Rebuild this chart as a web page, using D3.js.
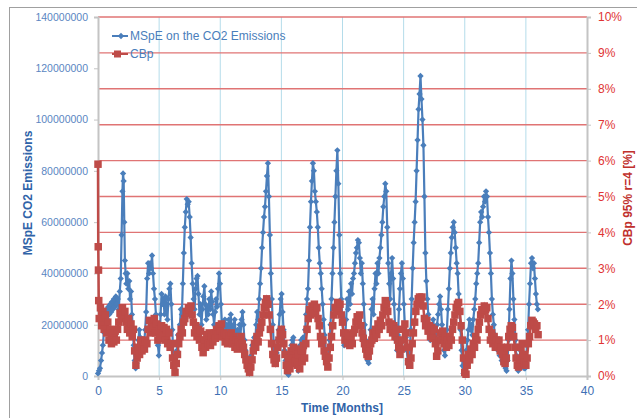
<!DOCTYPE html>
<html>
<head>
<meta charset="utf-8">
<script src="https://cdn.jsdelivr.net/npm/d3@7"></script>
<style>
  body { margin: 0; background: #fff; }
  svg { font-family: "Liberation Sans", Arial, sans-serif; display: block; }
</style>
</head>
<body>
<svg id="chart" width="637" height="418"></svg>
<script>
// MSpE on the CO2 Emissions, [month, value in millions]
var mspe = [
  [0.00,1],[0.08,2],[0.16,3],[0.25,6],[0.33,9],[0.40,12],[0.48,17],[0.56,24],[0.62,20],[0.70,26],
  [0.78,22],[0.85,27],[0.92,24],[1.00,28],[1.08,25],[1.15,29],[1.22,26],[1.30,30],[1.38,27],[1.46,31],
  [1.54,28],[1.62,30],[1.70,26],[1.78,33],[1.86,38],[1.93,55],[2.00,72],[2.05,79],[2.10,76],[2.15,60],
  [2.20,45],[2.26,40],[2.32,36],[2.40,40],[2.48,34],[2.56,37],[2.62,30],[2.70,33],[2.78,24],[2.85,18],
  [2.92,12],[3.00,6],[3.08,3],[3.15,5],[3.22,9],[3.30,14],[3.38,18],[3.46,15],[3.55,12],[3.62,14],
  [3.70,10],[3.78,13],[3.86,18],[3.94,25],[4.02,38],[4.10,44],[4.18,40],[4.26,44],[4.34,42],[4.42,47],
  [4.50,40],[4.58,34],[4.66,30],[4.74,24],[4.82,18],[4.90,12],[4.98,8],[5.05,14],[5.12,24],[5.20,32],
  [5.28,28],[5.36,30],[5.44,24],[5.52,31],[5.60,27],[5.68,22],[5.76,30],[5.84,34],[5.92,36],[6.00,28],
  [6.08,18],[6.16,8],[6.24,3],[6.30,1],[6.38,5],[6.46,10],[6.54,16],[6.62,14],[6.70,20],[6.78,26],
  [6.86,24],[6.94,36],[7.02,48],[7.10,58],[7.18,64],[7.26,69],[7.34,67],[7.42,68],[7.50,62],[7.58,54],
  [7.66,44],[7.74,36],[7.82,30],[7.90,26],[7.98,34],[8.06,38],[8.14,39],[8.22,32],[8.30,24],[8.38,28],
  [8.46,20],[8.54,26],[8.62,31],[8.70,35],[8.78,28],[8.86,22],[8.94,27],[9.02,24],[9.10,30],[9.18,26],
  [9.26,33],[9.34,29],[9.42,24],[9.50,20],[9.58,25],[9.66,30],[9.74,27],[9.82,34],[9.90,40],[9.98,36],
  [10.06,28],[10.14,20],[10.22,15],[10.30,18],[10.38,22],[10.46,17],[10.54,20],[10.62,16],[10.70,22],[10.78,19],
  [10.86,24],[10.94,18],[11.02,14],[11.10,20],[11.18,22],[11.26,17],[11.34,12],[11.42,18],[11.50,15],[11.58,20],
  [11.66,16],[11.74,22],[11.82,25],[11.90,20],[11.98,14],[12.06,10],[12.14,6],[12.22,3],[12.30,2],[12.38,1],
  [12.46,4],[12.54,8],[12.62,12],[12.70,10],[12.78,15],[12.86,13],[12.94,20],[13.02,25],[13.10,22],[13.18,30],
  [13.26,36],[13.34,42],[13.42,50],[13.50,56],[13.58,62],[13.66,66],[13.74,72],[13.82,78],[13.90,83],[13.98,70],
  [14.06,55],[14.14,40],[14.22,30],[14.30,20],[14.38,12],[14.46,6],[14.54,5],[14.62,9],[14.70,14],[14.78,18],
  [14.86,24],[14.94,30],[15.02,32],[15.10,25],[15.18,18],[15.26,10],[15.34,6],[15.42,3],[15.50,1],[15.58,0.5],
  [15.66,4],[15.74,8],[15.82,12],[15.90,14],[15.98,15],[16.06,10],[16.14,6],[16.22,9],[16.30,5],[16.38,2],
  [16.46,8],[16.54,12],[16.62,14],[16.70,11],[16.78,15],[16.86,12],[16.94,18],[17.02,24],[17.10,30],[17.18,34],
  [17.26,45],[17.34,58],[17.42,68],[17.50,76],[17.58,83],[17.66,80],[17.74,72],[17.82,68],[17.90,64],[17.98,58],
  [18.06,50],[18.14,44],[18.22,40],[18.30,34],[18.38,28],[18.46,22],[18.54,16],[18.62,10],[18.70,6],[18.78,4],
  [18.86,8],[18.94,14],[19.02,20],[19.10,30],[19.18,40],[19.26,50],[19.34,60],[19.42,70],[19.50,80],[19.58,88],
  [19.66,75],[19.74,55],[19.82,40],[19.90,30],[19.98,22],[20.06,16],[20.14,12],[20.22,15],[20.30,22],[20.38,30],
  [20.46,26],[20.54,33],[20.62,28],[20.70,36],[20.78,32],[20.86,38],[20.94,40],[21.02,44],[21.10,48],[21.18,50],
  [21.26,53],[21.34,52],[21.42,46],[21.50,40],[21.58,44],[21.66,36],[21.74,28],[21.82,20],[21.90,14],[21.98,8],
  [22.06,6],[22.14,5],[22.22,10],[22.30,18],[22.38,26],[22.46,30],[22.54,24],[22.62,34],[22.70,40],[22.78,36],
  [22.86,44],[22.94,40],[23.02,46],[23.10,50],[23.18,55],[23.26,60],[23.34,66],[23.42,70],[23.50,75],[23.58,72],
  [23.66,58],[23.74,44],[23.82,36],[23.90,30],[23.98,40],[24.06,46],[24.14,38],[24.22,28],[24.30,20],[24.38,14],
  [24.46,10],[24.54,16],[24.62,26],[24.70,34],[24.78,40],[24.86,44],[24.94,38],[25.02,28],[25.10,20],[25.18,15],
  [25.26,10],[25.34,6],[25.42,4],[25.50,8],[25.58,18],[25.66,30],[25.74,42],[25.82,52],[25.90,60],[25.98,68],
  [26.06,80],[26.14,92],[26.22,104],[26.30,110],[26.38,117],[26.46,108],[26.54,100],[26.62,90],[26.70,70],[26.78,48],
  [26.86,37],[26.94,30],[27.02,24],[27.10,18],[27.18,14],[27.26,20],[27.34,16],[27.42,22],[27.50,18],[27.58,12],
  [27.66,16],[27.74,20],[27.82,24],[27.90,28],[27.98,31],[28.06,26],[28.14,20],[28.22,14],[28.30,10],[28.38,8],
  [28.46,12],[28.54,18],[28.62,26],[28.70,34],[28.78,42],[28.86,48],[28.94,54],[29.02,58],[29.10,60],[29.18,56],
  [29.26,50],[29.34,44],[29.42,40],[29.50,32],[29.58,25],[29.66,18],[29.74,10],[29.82,4],[29.90,1],[29.98,0.5],
  [30.06,4],[30.14,10],[30.22,14],[30.30,18],[30.38,22],[30.46,18],[30.54,20],[30.62,16],[30.70,22],[30.78,26],
  [30.86,30],[30.94,36],[31.02,40],[31.10,44],[31.18,52],[31.26,60],[31.34,64],[31.42,62],[31.50,66],[31.58,70],
  [31.66,68],[31.74,72],[31.82,70],[31.90,62],[31.98,56],[32.06,48],[32.14,40],[32.22,30],[32.30,24],[32.38,20],
  [32.46,16],[32.54,12],[32.62,14],[32.70,10],[32.78,12],[32.86,8],[32.94,10],[33.02,6],[33.10,8],[33.18,5],
  [33.26,4],[33.34,3],[33.42,2],[33.50,6],[33.58,14],[33.66,26],[33.74,38],[33.82,45],[33.90,40],[33.98,30],
  [34.06,22],[34.14,14],[34.22,8],[34.30,4],[34.38,2],[34.46,6],[34.54,10],[34.62,8],[34.70,6],[34.78,4],
  [34.86,3],[34.94,3],[35.02,6],[35.10,12],[35.18,18],[35.26,28],[35.34,36],[35.42,44],[35.50,46],[35.58,42],
  [35.66,44],[35.74,38],[35.82,32],[35.90,28],[35.98,26]
];

// CBp 95% r=4, [month, percent]
var cbp = [
  [0.00,5.9],[0.02,3.6],[0.04,2.95],[0.06,2.1],
  [0.1,1.6],[0.2,1.9],[0.3,1.4],[0.4,1.8],[0.5,1.3],[0.6,1.7],[0.7,1.2],[0.8,1.5],[0.9,1.0],[1.0,1.3],
  [1.1,0.9],[1.2,1.2],[1.3,0.95],[1.4,1.25],[1.5,1.0],[1.6,1.3],[1.7,1.5],[1.8,1.75],[1.9,1.6],[2.0,1.9],
  [2.1,1.7],[2.2,1.8],[2.3,1.5],[2.4,1.3],[2.5,1.6],[2.6,1.2],[2.7,1.45],[2.8,1.1],[2.9,1.3],[3.0,0.7],
  [3.1,0.3],[3.2,0.5],[3.3,0.8],[3.4,0.6],[3.5,1.0],[3.6,0.7],[3.7,0.95],[3.8,0.75],[3.9,1.0],[4.0,0.9],
  [4.1,1.3],[4.2,1.55],[4.3,1.2],[4.4,1.5],[4.5,1.35],[4.6,1.6],[4.7,1.2],[4.8,1.45],[4.9,1.0],[5.0,1.3],
  [5.1,1.05],[5.2,1.4],[5.3,1.1],[5.4,1.35],[5.5,1.0],[5.6,1.3],[5.7,0.9],[5.8,1.2],[5.9,0.8],[6.0,0.9],
  [6.1,0.5],[6.2,0.3],[6.3,0.1],[6.4,0.35],[6.5,0.6],[6.6,0.9],[6.7,1.1],[6.8,1.3],[6.9,1.2],[7.0,1.5],
  [7.1,1.6],[7.2,1.8],[7.3,1.75],[7.4,1.9],[7.5,1.85],[7.6,1.95],[7.7,1.7],[7.8,1.5],[7.9,1.2],[8.0,1.4],
  [8.1,1.1],[8.2,1.3],[8.3,1.0],[8.4,1.25],[8.5,0.8],[8.6,0.65],[8.7,1.0],[8.8,0.8],[8.9,1.15],[9.0,0.9],
  [9.1,1.2],[9.2,0.85],[9.3,1.1],[9.4,0.95],[9.5,1.2],[9.6,1.05],[9.7,1.3],[9.8,1.15],[9.9,1.4],[10.0,1.25],
  [10.1,1.45],[10.2,1.1],[10.3,1.2],[10.4,0.95],[10.5,1.15],[10.6,0.9],[10.7,1.1],[10.8,0.95],[10.9,1.2],[11.0,0.9],
  [11.1,1.1],[11.2,0.8],[11.3,1.0],[11.4,0.75],[11.5,0.95],[11.6,0.85],[11.7,1.1],[11.8,0.9],[11.9,0.8],[12.0,0.6],
  [12.1,0.45],[12.2,0.3],[12.3,0.2],[12.4,0.1],[12.5,0.25],[12.6,0.45],[12.7,0.7],[12.8,0.9],[12.9,0.8],[13.0,1.1],
  [13.1,0.95],[13.2,1.2],[13.3,1.35],[13.4,1.5],[13.5,1.7],[13.6,1.9],[13.7,2.05],[13.8,2.15],[13.9,2.0],[14.0,1.7],
  [14.1,1.3],[14.2,0.9],[14.3,0.6],[14.4,0.45],[14.5,0.35],[14.6,0.5],[14.7,0.8],[14.8,1.0],[14.9,1.2],[15.0,1.3],
  [15.1,1.15],[15.2,0.9],[15.3,0.6],[15.4,0.3],[15.5,0.15],[15.6,0.5],[15.7,0.2],[15.8,0.7],[15.9,0.35],[16.0,0.8],
  [16.1,0.4],[16.2,0.75],[16.3,0.3],[16.4,0.6],[16.5,0.2],[16.6,0.7],[16.7,0.4],[16.8,0.85],[16.9,0.5],[17.0,0.9],
  [17.1,1.3],[17.2,1.6],[17.3,1.85],[17.4,1.7],[17.5,1.95],[17.6,1.8],[17.7,2.0],[17.8,1.75],[17.9,1.9],[18.0,1.6],
  [18.1,1.4],[18.2,1.1],[18.3,0.9],[18.4,1.0],[18.5,0.7],[18.6,0.55],[18.7,0.4],[18.8,0.25],[18.9,0.5],[19.0,0.8],
  [19.1,1.1],[19.2,1.4],[19.3,1.7],[19.4,1.9],[19.5,1.8],[19.6,2.05],[19.7,1.85],[19.8,2.0],[19.9,1.7],[20.0,1.5],
  [20.1,1.2],[20.2,1.0],[20.3,1.2],[20.4,0.9],[20.5,1.15],[20.6,0.85],[20.7,1.1],[20.8,0.9],[20.9,1.2],[21.0,1.3],
  [21.1,1.5],[21.2,1.65],[21.3,1.55],[21.4,1.7],[21.5,1.4],[21.6,1.2],[21.7,1.05],[21.8,0.9],[21.9,0.75],[22.0,0.6],
  [22.1,0.55],[22.2,0.7],[22.3,0.9],[22.4,1.0],[22.5,1.2],[22.6,1.05],[22.7,1.3],[22.8,1.15],[22.9,1.45],[23.0,1.3],
  [23.1,1.55],[23.2,1.4],[23.3,1.7],[23.4,1.9],[23.5,2.1],[23.6,2.0],[23.7,1.8],[23.8,1.5],[23.9,1.3],[24.0,1.45],
  [24.1,1.2],[24.2,1.4],[24.3,1.1],[24.4,1.3],[24.5,1.0],[24.6,0.8],[24.7,0.6],[24.8,0.75],[24.9,1.0],[25.0,1.3],
  [25.1,1.45],[25.2,1.2],[25.3,0.8],[25.4,0.4],[25.5,0.3],[25.6,0.5],[25.7,0.9],[25.8,1.2],[25.9,1.5],[26.0,1.8],
  [26.1,2.0],[26.2,2.15],[26.3,2.2],[26.4,2.1],[26.5,2.2],[26.6,1.95],[26.7,1.6],[26.8,1.4],[26.9,1.55],[27.0,1.25],
  [27.1,1.4],[27.2,1.1],[27.3,1.35],[27.4,1.05],[27.5,1.3],[27.6,0.9],[27.7,0.55],[27.8,0.7],[27.9,1.0],[28.0,1.2],
  [28.1,1.0],[28.2,1.25],[28.3,0.9],[28.4,1.1],[28.5,0.8],[28.6,1.0],[28.7,0.85],[28.8,1.1],[28.9,1.0],[29.0,1.3],
  [29.1,1.5],[29.2,1.7],[29.3,1.9],[29.4,2.0],[29.5,2.05],[29.6,1.8],[29.7,1.4],[29.8,1.0],[29.9,0.5],[30.0,0.1],
  [30.1,0.05],[30.2,0.3],[30.3,0.6],[30.4,0.45],[30.5,0.75],[30.6,0.6],[30.7,0.9],[30.8,0.8],[30.9,1.1],[31.0,1.0],
  [31.1,1.3],[31.2,1.5],[31.3,1.7],[31.4,1.85],[31.5,1.8],[31.6,1.95],[31.7,1.85],[31.8,1.9],[31.9,1.6],[32.0,1.3],
  [32.1,1.0],[32.2,1.2],[32.3,0.9],[32.4,1.1],[32.5,0.8],[32.6,1.0],[32.7,0.85],[32.8,1.0],[32.9,0.7],[33.0,0.8],
  [33.1,0.6],[33.2,0.4],[33.3,0.35],[33.4,0.5],[33.5,0.8],[33.6,1.1],[33.7,1.3],[33.8,1.4],[33.9,1.35],[34.0,1.1],
  [34.1,0.8],[34.2,0.5],[34.3,0.3],[34.4,0.25],[34.5,0.45],[34.6,0.8],[34.7,0.9],[34.8,0.6],[34.9,0.35],[35.0,0.3],
  [35.1,0.5],[35.2,0.9],[35.3,1.1],[35.4,1.4],[35.5,1.55],[35.6,1.5],[35.7,1.45],[35.8,1.3],[35.9,1.4],[36.0,1.15]
];

var xTicks = [0, 5, 10, 15, 20, 25, 30, 35, 40],
    leftTicks = [0, 20e6, 40e6, 60e6, 80e6, 100e6, 120e6, 140e6],
    rightTicks = [0, 1, 2, 3, 4, 5, 6, 7, 8, 9, 10];

var blue = "#4a7ebb", red = "#be4b48";

var svg = d3.select("#chart");

var x = d3.scaleLinear().domain([0, 40]).range([98, 587]),
    yL = d3.scaleLinear().domain([0, 140e6]).range([376, 17]),
    yR = d3.scaleLinear().domain([0, 10]).range([376, 17]);

// outer border
svg.append("rect").attr("x", 9.5).attr("y", 7.5).attr("width", 640).attr("height", 420)
  .attr("fill", "none").attr("stroke", "#a0a0a0");

// vertical grid
svg.append("g").selectAll("line").data(xTicks.filter(function(d){ return d > 0 && d < 40; }))
  .enter().append("line")
  .attr("x1", function(d){ return x(d); }).attr("x2", function(d){ return x(d); })
  .attr("y1", 17).attr("y2", 376)
  .attr("stroke", "#b4dcea").attr("stroke-width", 1);

// horizontal grid from right axis
svg.append("g").selectAll("line").data(rightTicks.filter(function(d){ return d > 0; }))
  .enter().append("line")
  .attr("x1", 98).attr("x2", 587)
  .attr("y1", function(d){ return yR(d); }).attr("y2", function(d){ return yR(d); })
  .attr("stroke", "#e07474").attr("stroke-width", 1.4);

// axes
var leftAxis = svg.append("g").attr("transform", "translate(98,0)")
  .call(d3.axisLeft(yL).tickValues(leftTicks).tickFormat(d3.format("d")).tickSize(4).tickPadding(6));
var rightAxis = svg.append("g").attr("transform", "translate(587,0)")
  .call(d3.axisRight(yR).tickValues(rightTicks).tickFormat(function(d){ return d + "%"; }).tickSize(4).tickPadding(7));
var bottomAxis = svg.append("g").attr("transform", "translate(0,376)")
  .call(d3.axisBottom(x).tickValues(xTicks).tickSize(4).tickPadding(6));

[leftAxis, rightAxis, bottomAxis].forEach(function(g){
  g.select(".domain").attr("stroke", "#c4c4c4").attr("stroke-width", 2);
  g.selectAll(".tick line").attr("stroke", "#c4c4c4");
  g.selectAll("text").attr("font-family", "Liberation Sans, Arial, sans-serif");
});
leftAxis.selectAll("text").attr("fill", "#5a86c2").attr("font-size", 10.5);
rightAxis.selectAll("text").attr("fill", "#e03333").attr("font-size", 12);
bottomAxis.selectAll("text").attr("fill", "#3e70b4").attr("font-size", 12);

// series
var blueLine = d3.line().x(function(d){ return x(d[0]); }).y(function(d){ return yL(d[1] * 1e6); });
var redLine = d3.line().x(function(d){ return x(d[0]); }).y(function(d){ return yR(d[1]); });

svg.append("path").datum(mspe).attr("d", blueLine)
  .attr("fill", "none").attr("stroke", blue).attr("stroke-width", 2.2);
svg.append("g").selectAll("path").data(mspe).enter().append("path")
  .attr("d", d3.symbol().type(d3.symbolSquare).size(20))
  .attr("transform", function(d){ return "translate(" + x(d[0]) + "," + yL(d[1] * 1e6) + ") rotate(45)"; })
  .attr("fill", blue);

svg.append("path").datum(cbp).attr("d", redLine)
  .attr("fill", "none").attr("stroke", red).attr("stroke-width", 2.5);
svg.append("g").selectAll("rect").data(cbp).enter().append("rect")
  .attr("x", function(d){ return x(d[0]) - 3.75; })
  .attr("y", function(d){ return yR(d[1]) - 3.75; })
  .attr("width", 7.5).attr("height", 7.5)
  .attr("fill", red);

// legend
var legend = svg.append("g");
legend.append("line").attr("x1", 112).attr("x2", 128).attr("y1", 36).attr("y2", 36)
  .attr("stroke", blue).attr("stroke-width", 2);
legend.append("path").attr("d", d3.symbol().type(d3.symbolSquare).size(20))
  .attr("transform", "translate(121,36) rotate(45)").attr("fill", blue);
legend.append("text").attr("x", 130).attr("y", 40).attr("font-size", 12).attr("fill", blue)
  .text("MSpE on the CO2 Emissions");
legend.append("line").attr("x1", 112).attr("x2", 128).attr("y1", 54).attr("y2", 54)
  .attr("stroke", red).attr("stroke-width", 2);
legend.append("rect").attr("x", 114).attr("y", 50.5).attr("width", 7).attr("height", 7).attr("fill", red);
legend.append("text").attr("x", 130).attr("y", 58).attr("font-size", 12).attr("fill", blue)
  .text("CBp");

// axis titles
svg.append("text").attr("transform", "translate(32,193) rotate(-90)")
  .attr("text-anchor", "middle").attr("font-size", 12).attr("font-weight", "bold")
  .attr("fill", "#2f63a8").text("MSpE CO2 Emissions");
svg.append("text").attr("transform", "translate(632,198) rotate(-90)")
  .attr("text-anchor", "middle").attr("font-size", 12).attr("font-weight", "bold")
  .attr("fill", "#c0302c").text("CBp 95% r=4 [%]");
svg.append("text").attr("x", 342).attr("y", 412)
  .attr("text-anchor", "middle").attr("font-size", 12).attr("font-weight", "bold")
  .attr("fill", "#2f63a8").text("Time [Months]");
</script>
</body>
</html>
